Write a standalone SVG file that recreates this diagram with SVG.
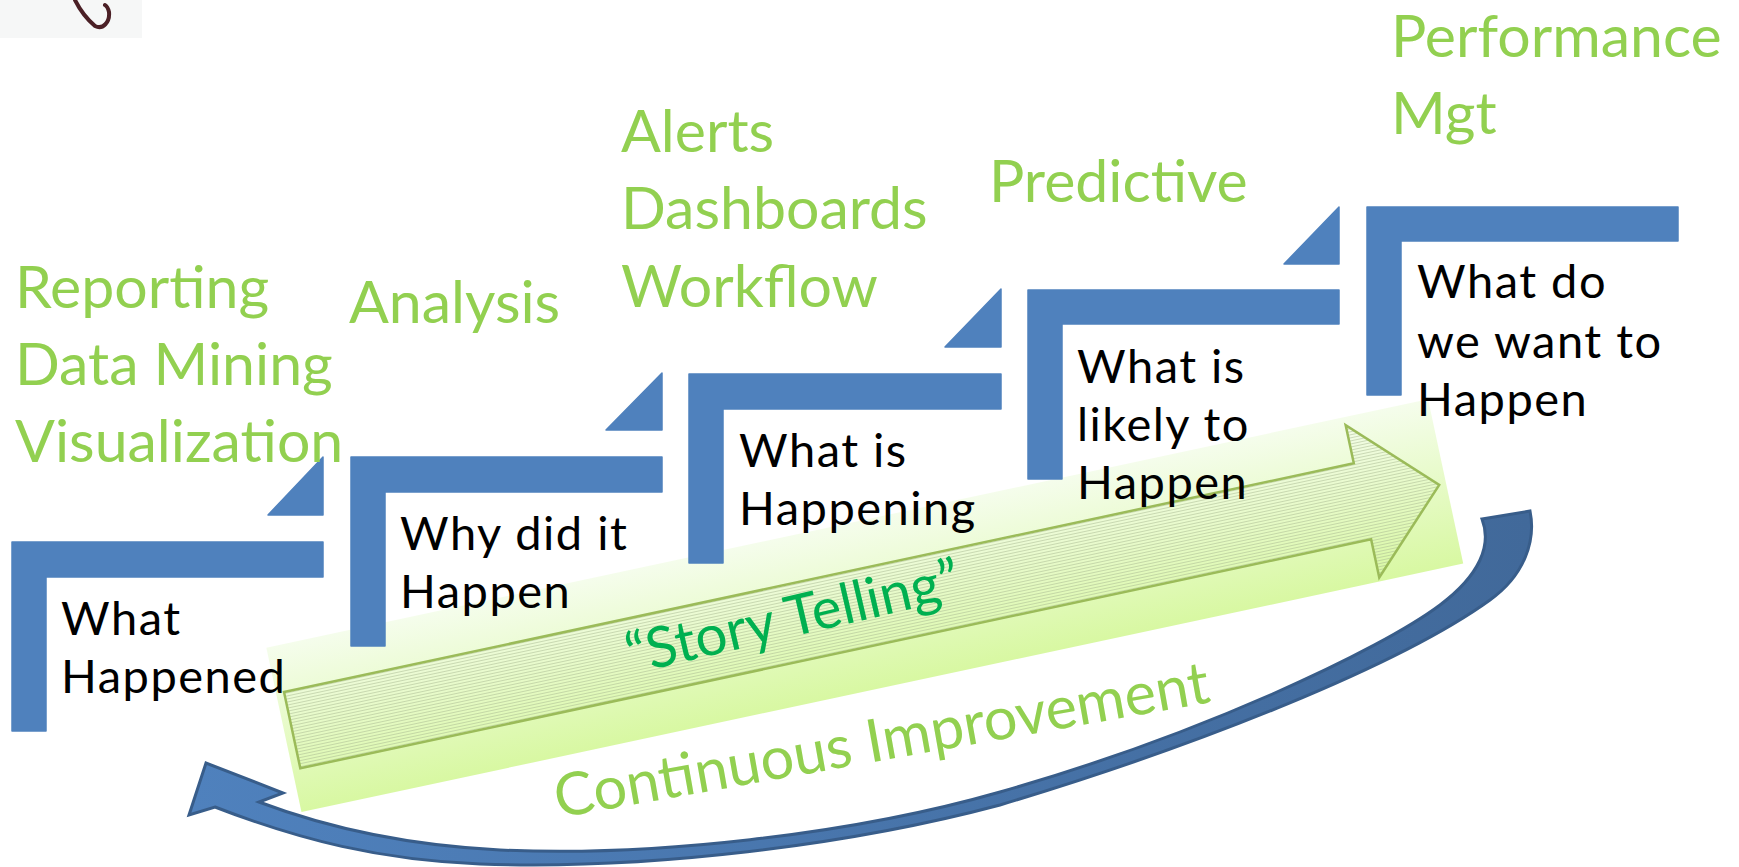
<svg xmlns="http://www.w3.org/2000/svg" width="1739" height="867" viewBox="0 0 1739 867">
<defs>
<style>
.step{fill:#4F81BD;stroke:#4F81BD;stroke-width:1.5;stroke-linejoin:round}
.lbl{font-family:Lato,"Liberation Sans",sans-serif;font-size:47px;letter-spacing:1.5px;fill:#000}
.grn{font-family:Lato,"Liberation Sans",sans-serif;font-size:59px;fill:#92D050}
.story{font-family:Lato,"Liberation Sans",sans-serif;font-size:56.5px;fill:#00B050}
.ci{font-family:Lato,"Liberation Sans",sans-serif;font-size:59.5px;fill:#92D050}
</style>
<linearGradient id="glow" x1="0" y1="0" x2="0" y2="1">
<stop offset="0" stop-color="#F5FDEC"/>
<stop offset="1" stop-color="#D8F8A2"/>
</linearGradient>
<linearGradient id="arcg" x1="0" y1="0" x2="1" y2="0">
<stop offset="0" stop-color="#4F81BD"/>
<stop offset="1" stop-color="#41699A"/>
</linearGradient>
<pattern id="hatch" patternUnits="userSpaceOnUse" width="12" height="3">
<line x1="0" y1="1.5" x2="12" y2="1.5" stroke="#A4B48C" stroke-width="0.7" stroke-opacity="0.7"/>
</pattern>
</defs>
<rect width="1739" height="867" fill="#FFFFFF"/>

<g id="corner-fragment">
<rect x="0" y="0" width="142" height="38" fill="#F6F7F7"/>
<path d="M75,0 C80,10 88,20 95,26 C103,30 110,22 109,12 C108,8 107,6 105,5" fill="none" stroke="#4B2026" stroke-width="4" stroke-linecap="round"/>
</g>

<g id="story-telling" transform="translate(284,692) rotate(-12.07)">
<rect x="-8" y="-47" width="1188" height="168" fill="url(#glow)"/>
<path d="M0,0 L1094,0 L1094,-39 L1173,39 L1095,117 L1095,78 L0,78 Z" fill="url(#hatch)" stroke="#9BBB59" stroke-width="2.5" stroke-linejoin="miter"/>
<text class="story" x="343" y="55" transform="rotate(-1 343 55)">“Story Telling”</text>
</g>

<g id="step1">
<path class="step" d="M12,542 H323 V577 H46 V731 H12 Z"/>
<path class="step" d="M268,515 L323,457 V515 Z"/>
<text class="lbl" x="61" y="635">What</text>
<text class="lbl" x="61" y="693">Happened</text>
</g>
<g id="step2">
<path class="step" d="M351,457 H662 V492 H385 V646 H351 Z"/>
<path class="step" d="M606,430 L662,373 V430 Z"/>
<text class="lbl" x="400" y="550" letter-spacing="0.8">Why did it</text>
<text class="lbl" x="400" y="608">Happen</text>
</g>
<g id="step3">
<path class="step" d="M689,374 H1001 V409 H723 V563 H689 Z"/>
<path class="step" d="M945,347 L1001,289 V347 Z"/>
<text class="lbl" x="739" y="467">What is</text>
<text class="lbl" x="739" y="525">Happening</text>
</g>
<g id="step4">
<path class="step" d="M1028,290 H1339 V324 H1062 V479 H1028 Z"/>
<path class="step" d="M1284,264 L1339,207 V264 Z"/>
<text class="lbl" x="1077" y="383">What is</text>
<text class="lbl" x="1077" y="441">likely to</text>
<text class="lbl" x="1077" y="499">Happen</text>
</g>
<g id="step5">
<path class="step" d="M1367,207 H1678 V241 H1401 V395 H1367 Z"/>
<text class="lbl" x="1417" y="298">What do</text>
<text class="lbl" x="1417" y="358">we want to</text>
<text class="lbl" x="1417" y="416">Happen</text>
</g>

<g id="labels">
<text class="grn" x="15" y="308">Reporting</text>
<text class="grn" x="15" y="385">Data Mining</text>
<text class="grn" x="15" y="462">Visualization</text>
<text class="grn" x="349" y="323">Analysis</text>
<text class="grn" x="621" y="152">Alerts</text>
<text class="grn" x="621" y="229">Dashboards</text>
<text class="grn" x="621" y="307">Workflow</text>
<text class="grn" x="989" y="202">Predictive</text>
<text class="grn" x="1391" y="57">Performance</text>
<text class="grn" x="1391" y="134">Mgt</text>
</g>

<g id="connectors">
<path id="continuous-arrow" d="M1482,519 L1530,511 C1536,540 1525,575 1490,600 C1400,665 1200,745 1000,805 C850,845 650,870 480,864 C380,860 300,840 215,807 L189,815 L206,763 L283,793 L259,802 C320,825 400,845 500,850 C650,857 850,835 1000,792 C1200,735 1380,650 1440,605 C1480,575 1492,545 1482,519 Z" fill="url(#arcg)" stroke="#385D8A" stroke-width="3" stroke-linejoin="miter"/>
</g>

<text class="ci" transform="translate(558,818) rotate(-10.06)">Continuous Improvement</text>
</svg>
